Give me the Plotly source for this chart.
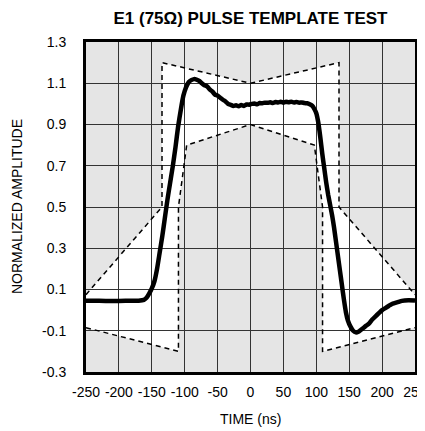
import plotly.graph_objects as go

# ---- data ----
pulse_t = [-250, -230, -210, -190, -170, -162, -158, -154, -150, -146, -142, -138, -134, -130,
           -126, -122, -118, -114, -110, -106, -102, -98, -94, -90, -86, -82, -78, -74, -70,
           -66, -62, -58, -54, -50, -46, -42, -38, -34, -30, -26, -22, -18, -14, -10, -6, -2,
           2, 6, 10, 14, 18, 22, 26, 30, 34, 38, 42, 46, 50, 54, 58, 62, 66, 70, 74, 78, 82,
           86, 90, 94, 97, 100, 103, 106, 109, 112, 115, 118, 121, 124, 127, 130, 133, 136,
           139, 142, 145, 148, 152, 156, 160, 164, 168, 172, 176, 180, 185, 190, 195, 200,
           205, 210, 215, 220, 225, 230, 240, 250]
pulse_v = [0.045, 0.045, 0.044, 0.045, 0.046, 0.05, 0.06, 0.08, 0.105, 0.14, 0.20, 0.28, 0.36, 0.45,
           0.54, 0.62, 0.70, 0.79, 0.89, 0.97, 1.04, 1.08, 1.105, 1.115, 1.12, 1.118, 1.112, 1.10, 1.09,
           1.085, 1.07, 1.06, 1.045, 1.04, 1.03, 1.02, 1.012, 1.0, 0.995, 0.99, 0.993, 0.988, 0.995,
           0.99, 0.997, 0.996,
           1.0, 1.002, 0.998, 1.004, 1.003, 1.006, 1.005, 1.008, 1.004, 1.009, 1.007, 1.01, 1.006,
           1.01, 1.008, 1.01, 1.007, 1.009, 1.006, 1.007, 1.004,
           1.003, 0.998, 0.99, 0.975, 0.955, 0.91, 0.84, 0.76, 0.69, 0.62, 0.56, 0.51, 0.46, 0.40,
           0.33, 0.26, 0.19, 0.12, 0.05, -0.01, -0.05, -0.08, -0.10, -0.108, -0.105, -0.095,
           -0.085, -0.075, -0.065, -0.045, -0.03, -0.015, 0.0, 0.01, 0.02, 0.03, 0.035, 0.04,
           0.045, 0.048, 0.047]

upper_t = [-250, -134.5, -134.5, 0, 134.5, 134.5, 250]
upper_v = [0.075, 0.5, 1.2, 1.1, 1.2, 0.5, 0.075]
lower_t = [-250, -109.5, -109.5, -97, 0, 97, 109.5, 109.5, 250]
lower_v = [-0.085, -0.2, 0.5, 0.8, 0.9, 0.8, 0.5, -0.2, -0.085]

x_ticks = [-250, -200, -150, -100, -50, 0, 50, 100, 150, 200, 250]
y_ticks = [-0.3, -0.1, 0.1, 0.3, 0.5, 0.7, 0.9, 1.1, 1.3]

FONT = "Liberation Sans, Arial, sans-serif"

# white region inside template, built from the mask arrays
poly_t = upper_t + lower_t[::-1]
poly_v = upper_v + lower_v[::-1]
path = "M " + " L ".join(f"{t},{v}" for t, v in zip(poly_t, poly_v)) + " Z"

fig = go.Figure()
fig.add_shape(type="path", path=path, xref="x", yref="y", layer="below",
              fillcolor="white", line=dict(width=0))

for tt, vv in ((upper_t, upper_v), (lower_t, lower_v)):
    fig.add_trace(go.Scatter(x=tt, y=vv, mode="lines",
                             line=dict(color="black", width=1.5, dash="5px,4px"),
                             hoverinfo="skip", showlegend=False))

fig.add_trace(go.Scatter(x=pulse_t, y=pulse_v, mode="lines",
                         line=dict(color="black", width=4.5, shape="spline", smoothing=0.5),
                         showlegend=False))

# the page body has an 8px margin, so the figure is sized to fit the window
fig.update_layout(
    width=417, height=423,
    margin=dict(l=78, r=10, t=34, b=59),
    paper_bgcolor="white", plot_bgcolor="#e5e5e5",
    font=dict(family=FONT, color="black", size=14),
    title=dict(text="<b>E1 (75\u03a9) PULSE TEMPLATE TEST</b>", x=0.5, xref="paper",
               xanchor="center", y=0.976, yref="container", yanchor="middle",
               font=dict(family=FONT, size=17, color="black")),
    showlegend=False,
)
fig.update_xaxes(range=[-250, 250], tickvals=x_ticks, ticktext=[str(v) for v in x_ticks],
                 tickangle=0, ticklabeloverflow="allow",
                 showgrid=True, gridcolor="#333333", gridwidth=1,
                 showline=True, linecolor="black", linewidth=3, mirror=True,
                 ticks="", ticklabelstandoff=5, zeroline=False, automargin=False,
                 tickfont=dict(size=14))
fig.update_yaxes(range=[-0.3, 1.3], tickvals=y_ticks, ticktext=[f"{v:.1f}" for v in y_ticks],
                 showgrid=True, gridcolor="#333333", gridwidth=1,
                 showline=True, linecolor="black", linewidth=3, mirror=True,
                 ticks="", ticklabelstandoff=14, zeroline=False, automargin=False,
                 tickfont=dict(size=14))

fig.add_annotation(text="NORMALIZED AMPLITUDE", xref="paper", yref="paper",
                   x=0, xshift=-69, xanchor="center", y=0.5, yanchor="middle",
                   textangle=-90, showarrow=False, font=dict(family=FONT, size=14))
fig.add_annotation(text="TIME (ns)", xref="paper", yref="paper",
                   x=0.5, xanchor="center", y=0, yshift=-47, yanchor="middle",
                   showarrow=False, font=dict(family=FONT, size=14))
fig.add_annotation(text="MAX4418 toc21", xref="paper", yref="paper",
                   x=1, xshift=5, xanchor="center", y=0.936, yanchor="middle",
                   textangle=-90, showarrow=False,
                   font=dict(family=FONT, size=7, color="#444"))

fig.write_html("out.html")
